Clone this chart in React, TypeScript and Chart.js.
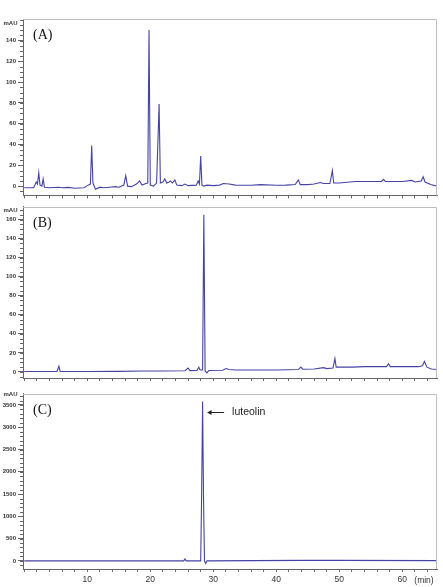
import React, { useEffect, useRef } from 'react';
import { Chart, registerables } from 'chart.js';
Chart.register(...registerables);

// ---- data (retention time in min, absorbance in mAU) ----
const timesA = [0, 1.5, 1.9, 2.1, 2.3, 2.5, 2.8, 3.0, 3.2, 4.0, 5.5, 6.0, 7.0, 8.0, 9.5, 10.0, 10.5, 10.7, 10.9, 11.3, 12.0, 12.5, 13.5, 14.5, 15.0, 15.8, 16.1, 16.4, 17.0, 17.8, 18.3, 18.7, 19.3, 19.6, 19.8, 20.0, 20.5, 21.0, 21.4, 21.6, 22.0, 22.3, 22.6, 23.0, 23.2, 23.5, 23.9, 24.2, 25.0, 25.5, 26.0, 27.3, 27.6, 27.8, 28.0, 28.2, 28.5, 29.0, 30.0, 31.0, 31.6, 32.5, 33.5, 36.0, 37.5, 40.0, 41.5, 43.0, 43.5, 43.8, 45.0, 46.0, 47.0, 47.5, 48.5, 48.9, 49.1, 50.0, 52.5, 55.0, 56.7, 57.0, 57.3, 60.0, 61.5, 62.0, 63.0, 63.3, 63.6, 64.5, 65.5];
const valuesA = [-1.5, -1.5, 4, 2, 13, 1, 0, 7, -1, -1.5, -1, -1.5, -1.2, -2, -1.5, 0.5, 2, 39, 3, -3, -1, -1.5, -1, -0.5, -1, 1, 10, 0, -0.5, 2, 5, 1, 2.5, 3, 150, 1, 0, 3, 79, 3, 4, 7, 3, 4, 5, 3, 6, 1, 0.5, 2, 0.5, 1, 5, 2, 29, 1, 0, 1, 0.5, 1, 2.5, 2, 1, 0.8, 1.5, 0.8, 1, 1.5, 6, 1.5, 1.5, 2, 3.5, 2.5, 2.5, 15, 3, 3, 4.5, 4.5, 4.5, 6.5, 4.5, 4.5, 5.5, 4, 5, 9, 4, 1.5, 0];

const timesB = [0, 5.2, 5.5, 5.7, 10, 15, 19, 22, 25.5, 26.0, 26.3, 27.4, 27.7, 27.9, 28.3, 28.5, 28.7, 29.0, 29.3, 31.5, 32.0, 32.5, 33.5, 40, 43.5, 43.9, 44.2, 46, 47.5, 48, 49.0, 49.3, 49.5, 52, 54, 57.5, 57.8, 58.1, 62.5, 63.2, 63.5, 63.9, 64.6, 65.5];
const valuesB = [0.5, 0.5, 6, 0.5, 0.5, 0.6, 1, 1, 1.2, 4, 1.3, 1.5, 5, 2, 2, 165, 1, -1, 1.5, 1.8, 3.5, 2.5, 2, 2, 2.5, 5, 2.8, 3, 4.5, 3.5, 4, 14, 5, 5, 5.5, 5.5, 8.5, 5.5, 5.5, 6.5, 11, 5, 3, 2.5];

const timesC = [0, 25.3, 25.5, 25.7, 28.0, 28.15, 28.3, 28.45, 28.6, 28.8, 29.0, 44, 50, 65.5];
const valuesC = [0, 0, 40, 0, 0, 1500, 3580, 1400, 0, -60, 0, 10, 10, 5];

const yLabelsA = [0, 20, 40, 60, 80, 100, 120, 140];
const yLabelsB = [0, 20, 40, 60, 80, 100, 120, 140, 160];
const yLabelsC = [0, 500, 1000, 1500, 2000, 2500, 3000, 3500];
const xLabels = [10, 20, 30, 40, 50, 60];
const xTickStep = 2;

const panelNames = ['(A)', '(B)', '(C)'];
const yUnit = 'mAU';
const xUnit = '(min)';
const peakName = 'luteolin';
const peakTime = 28.3;
const peakArrowValue = 3350;

// ---- layout / styles ----
const W = 443;
const LINE = '#4543a4';
const AXIS = '#666';
const FRAME = '#bdbdbd';
const X_MIN = -0.2;
const X_MAX = 65.5;

type Panel = {
  times: number[]; values: number[]; yLabels: number[];
  yMin: number; yMax: number; yMinor: number;
  top: number; height: number; padTop: number; xAxisH: number;
  showX: boolean; mauOff: number; name: string; annotate: boolean;
};

const panels: Panel[] = [
  { times: timesA, values: valuesA, yLabels: yLabelsA, yMin: -8.9, yMax: 160.7, yMinor: 5,
    top: 0, height: 201, padTop: 19, xAxisH: 4, showX: false, mauOff: 4.3, name: panelNames[0], annotate: false },
  { times: timesB, values: valuesB, yLabels: yLabelsB, yMin: -6.4, yMax: 173.6, yMinor: 5,
    top: 201, height: 187, padTop: 0.7, xAxisH: 10, showX: false, mauOff: 3.3, name: panelNames[1], annotate: false },
  { times: timesC, values: valuesC, yLabels: yLabelsC, yMin: -183, yMax: 3756, yMinor: 100,
    top: 388, height: 199, padTop: 2.7, xAxisH: 18, showX: true, mauOff: 1.2, name: panelNames[2], annotate: true },
];

function makeDecor(p: Panel) {
  return {
    id: 'decor',
    afterDraw(chart: any) {
      const { ctx, chartArea } = chart;
      const { left, right, top, bottom } = chartArea;
      const y = chart.scales.y;
      const x = chart.scales.x;
      ctx.save();
      // frame top/right
      ctx.strokeStyle = FRAME;
      ctx.lineWidth = 1;
      ctx.beginPath();
      ctx.moveTo(left, Math.round(top) + 0.5);
      ctx.lineTo(Math.round(right) - 0.5, Math.round(top) + 0.5);
      ctx.lineTo(Math.round(right) - 0.5, bottom);
      ctx.stroke();
      // minor y ticks
      ctx.strokeStyle = AXIS;
      ctx.beginPath();
      for (let v = Math.ceil(y.min / p.yMinor) * p.yMinor; v <= y.max; v += p.yMinor) {
        const py = Math.round(y.getPixelForValue(v)) + 0.5;
        ctx.moveTo(left - 3, py);
        ctx.lineTo(left, py);
      }
      ctx.stroke();
      // unit label
      ctx.fillStyle = '#333';
      ctx.font = 'bold 6px "Liberation Sans", Arial, sans-serif';
      ctx.textAlign = 'right';
      ctx.textBaseline = 'middle';
      ctx.fillText(yUnit, 17.5, top + p.mauOff);
      // panel name
      ctx.fillStyle = '#111';
      ctx.font = '14px "Liberation Serif", "Times New Roman", serif';
      ctx.textAlign = 'left';
      ctx.fillText(p.name, left + 10, top + 16.5);
      if (p.showX) {
        ctx.fillStyle = '#333';
        ctx.font = '8.5px "Liberation Sans", Arial, sans-serif';
        ctx.textAlign = 'center';
        ctx.fillText(xUnit, 424, bottom + 11.7);
      }
      if (p.annotate) {
        const tipX = x.getPixelForValue(peakTime) + 4.5;
        const ay = Math.round(y.getPixelForValue(peakArrowValue)) + 0.5;
        ctx.strokeStyle = '#222';
        ctx.fillStyle = '#222';
        ctx.lineWidth = 1;
        ctx.beginPath();
        ctx.moveTo(tipX + 3, ay);
        ctx.lineTo(tipX + 17, ay);
        ctx.stroke();
        ctx.beginPath();
        ctx.moveTo(tipX, ay);
        ctx.lineTo(tipX + 4.5, ay - 2.5);
        ctx.lineTo(tipX + 4.5, ay + 2.5);
        ctx.closePath();
        ctx.fill();
        ctx.font = '10.5px "Liberation Sans", Arial, sans-serif';
        ctx.textAlign = 'left';
        ctx.fillText(peakName, tipX + 25, ay);
      }
      ctx.restore();
    },
  };
}

function xTickValues(): number[] {
  const out: number[] = [];
  for (let v = 0; v <= X_MAX; v += xTickStep) out.push(v);
  return out;
}

function PanelChart({ p }: { p: Panel }) {
  const ref = useRef<HTMLCanvasElement>(null);
  useEffect(() => {
    if (!ref.current) return;
    const data = p.times.map((t, i) => ({ x: t, y: p.values[i] }));
    const chart = new Chart(ref.current, {
      type: 'line',
      data: {
        datasets: [{
          data,
          borderColor: LINE,
          borderWidth: 1.1,
          pointRadius: 0,
          tension: 0,
          fill: false,
        }],
      },
      options: {
        animation: false,
        responsive: false,
        events: [],
        layout: { padding: { top: p.padTop, right: 6, left: 0, bottom: 0 } },
        plugins: { legend: { display: false }, tooltip: { enabled: false } },
        scales: {
          x: {
            type: 'linear',
            min: X_MIN,
            max: X_MAX,
            afterBuildTicks: (s: any) => { s.ticks = xTickValues().map((v) => ({ value: v })); },
            ticks: {
              autoSkip: false,
              maxRotation: 0,
              padding: 3,
              color: '#333',
              font: { size: 8.5, family: '"Liberation Sans", Arial, sans-serif' },
              callback: (v: any) => (p.showX && xLabels.includes(Number(v)) ? String(v) : ''),
            },
            grid: { drawOnChartArea: false, drawTicks: true, tickLength: 3, color: AXIS },
            border: { display: true, color: AXIS },
            afterFit: (s: any) => { s.height = p.xAxisH; },
          },
          y: {
            type: 'linear',
            min: p.yMin,
            max: p.yMax,
            afterBuildTicks: (s: any) => { s.ticks = p.yLabels.map((v) => ({ value: v })); },
            ticks: {
              autoSkip: false,
              padding: 2,
              color: '#333',
              font: { size: 6, weight: 'bold', family: '"Liberation Sans", Arial, sans-serif' },
              callback: (v: any) => String(v),
            },
            grid: { drawOnChartArea: false, drawTicks: true, tickLength: 5, color: AXIS },
            border: { display: true, color: AXIS },
            afterFit: (s: any) => { s.width = 23; },
          },
        },
      },
      plugins: [makeDecor(p)],
    } as any);
    return () => chart.destroy();
  }, [p]);
  return (
    <canvas
      ref={ref}
      width={W}
      height={p.height}
      style={{ position: 'absolute', left: 0, top: p.top, width: W, height: p.height }}
    />
  );
}

export default function App() {
  return (
    <div style={{ position: 'absolute', left: 0, top: 0, width: W, height: 587, background: '#fff', overflow: 'hidden' }}>
      {panels.map((p, i) => <PanelChart key={i} p={p} />)}
    </div>
  );
}
